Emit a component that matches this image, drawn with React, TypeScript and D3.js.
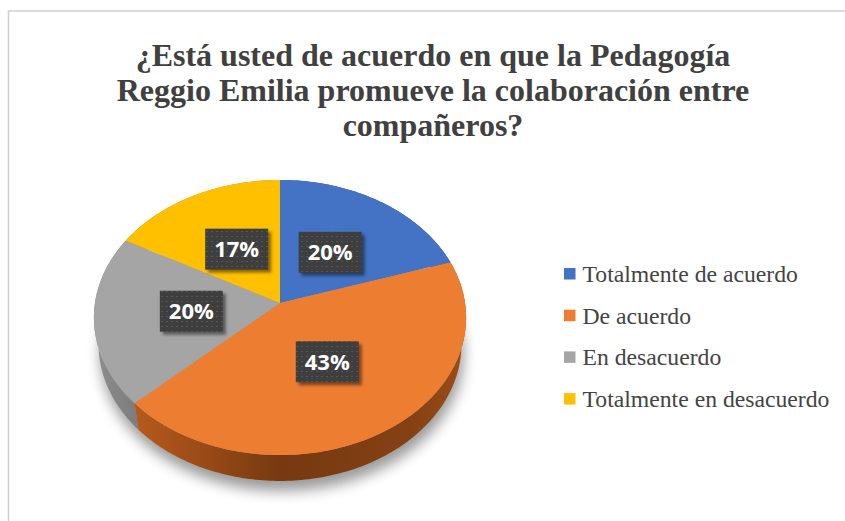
import React from "react";
import * as d3 from "d3";

const categories = ["Totalmente de acuerdo", "De acuerdo", "En desacuerdo", "Totalmente en desacuerdo"];
const values = [20, 43, 20, 17];
const labels = ["20%", "43%", "20%", "17%"];
const colors = ["#4472C4", "#ED7D31", "#A5A5A5", "#FFC000"];
const titleLines = [
  "¿Está usted de acuerdo en que la Pedagogía",
  "Reggio Emilia promueve la colaboración entre",
  "compañeros?",
];

const W = 845;
const H = 521;
// perspective projection parameters for the 3D pie
const cx = 280;
const cy = 303;
const K = 1188;
const D = 6.42;
const sA = 0.735;
const cA = 0.678;
const depth = 0.22;

function proj(theta: number, r: number, h: number): [number, number] {
  const X = r * Math.sin(theta);
  const Z = -r * Math.cos(theta);
  const yc = Z * sA + h * cA;
  const d = D - Z * cA + h * sA;
  return [cx + (K * X) / d, cy + (K * yc) / d];
}

function arcPts(a0: number, a1: number, h: number): [number, number][] {
  const n = Math.max(2, Math.ceil(Math.abs(a1 - a0) / (Math.PI / 180)));
  const pts: [number, number][] = [];
  for (let i = 0; i <= n; i++) {
    const t = a0 + ((a1 - a0) * i) / n;
    pts.push(proj(t, 1, h));
  }
  return pts;
}

export default function App() {
  const pie = d3
    .pie<number>()
    .sort(null)
    .value((d) => d)
    .startAngle(0)
    .endAngle(2 * Math.PI);
  const arcs = pie(values);
  const line = d3.line<[number, number]>().curve(d3.curveLinear);

  const tops = arcs.map((a) => {
    const pts = [proj(0, 0, 0), ...arcPts(a.startAngle, a.endAngle, 0)];
    return line(pts) + "Z";
  });
  const walls = arcs.map((a) => {
    const top = arcPts(a.startAngle, a.endAngle, 0);
    const bot = arcPts(a.endAngle, a.startAngle, depth);
    return line([...top, ...bot]) + "Z";
  });
  const wallOrder = arcs
    .map((a, i) => ({ i, m: Math.cos((a.startAngle + a.endAngle) / 2) }))
    .sort((p, q) => q.m - p.m)
    .map((o) => o.i);
  const shadowPath = line(arcPts(0, 2 * Math.PI, depth)) + "Z";
  const wallFill = ["url(#gBlueSide)", "url(#gOrangeSide)", "url(#gGraySide)", "url(#gYellowSide)"];

  const boxW = 63;
  const boxH = 41;
  const labelPos = arcs.map((a) => proj((a.startAngle + a.endAngle) / 2, 0.48, 0));

  const legendX = 564;
  const legendY0 = 282;
  const legendStep = 41.7;

  return (
    <svg
      width={W}
      height={H}
      style={{ position: "absolute", left: 0, top: 0, background: "#fff" }}
      xmlns="http://www.w3.org/2000/svg"
    >
      <defs>
        <linearGradient id="gOrangeSide" gradientUnits="userSpaceOnUse" x1={95} y1={0} x2={466} y2={0}>
          <stop offset="0" stopColor="#C4631F" />
          <stop offset="0.2" stopColor="#A9521A" />
          <stop offset="0.5" stopColor="#773910" />
          <stop offset="0.85" stopColor="#844114" />
          <stop offset="1" stopColor="#9C4C17" />
        </linearGradient>
        <linearGradient id="gGraySide" gradientUnits="userSpaceOnUse" x1={95} y1={0} x2={160} y2={0}>
          <stop offset="0" stopColor="#8E8E8E" />
          <stop offset="1" stopColor="#737373" />
        </linearGradient>
        <linearGradient id="gBlueSide" x1="0" y1="0" x2="1" y2="0">
          <stop offset="0" stopColor="#2F4F8A" />
          <stop offset="1" stopColor="#2F4F8A" />
        </linearGradient>
        <linearGradient id="gYellowSide" x1="0" y1="0" x2="1" y2="0">
          <stop offset="0" stopColor="#B38600" />
          <stop offset="1" stopColor="#B38600" />
        </linearGradient>
        <filter id="pieShadow" x="-20%" y="-20%" width="140%" height="140%">
          <feGaussianBlur stdDeviation="7" />
        </filter>
        <filter id="boxShadow" x="-30%" y="-30%" width="160%" height="160%">
          <feGaussianBlur stdDeviation="1.5" />
        </filter>
        <pattern id="dots" width="5" height="5" patternUnits="userSpaceOnUse">
          <rect width="5" height="5" fill="#3E3E3E" />
          <rect x="1" y="1" width="2" height="1" fill="#555555" />
        </pattern>
      </defs>

      <rect x={8.5} y={11} width={W} height={H} fill="#fff" stroke="#D0D0D0" strokeWidth={1.5} />

      <g fontFamily="'Liberation Serif', 'Times New Roman', serif" fontWeight="bold" fontSize={32} fill="#404040" textAnchor="middle">
        {titleLines.map((t, i) => (
          <text key={i} x={433} y={65.5 + i * 35.4}>
            {t}
          </text>
        ))}
      </g>

      <path d={shadowPath} transform="translate(2,10)" fill="#000" opacity={0.4} filter="url(#pieShadow)" />

      {wallOrder.map((i) => (
        <path key={"w" + i} d={walls[i]} fill={wallFill[i]} />
      ))}
      {tops.map((p, i) => (
        <path key={"t" + i} d={p} fill={colors[i]} />
      ))}

      {labelPos.map(([x, y], i) => (
        <g key={"l" + i}>
          <rect x={x - boxW / 2 + 3} y={y - boxH / 2 + 3} width={boxW} height={boxH} fill="#000" opacity={0.45} filter="url(#boxShadow)" />
          <rect x={x - boxW / 2} y={y - boxH / 2} width={boxW} height={boxH} fill="url(#dots)" />
          <text
            x={x}
            y={y + 8}
            textAnchor="middle"
            fontFamily="'Open Sans', sans-serif"
            fontWeight="bold"
            fontSize={22}
            fill="#fff"
          >
            {labels[i]}
          </text>
        </g>
      ))}

      <g fontFamily="'Liberation Serif', 'Times New Roman', serif" fontSize={23.7} fill="#444">
        {categories.map((c, i) => (
          <g key={"lg" + i}>
            <rect x={legendX} y={legendY0 + i * legendStep - 14} width={11.5} height={11.5} fill={colors[i]} />
            <text x={legendX + 18.5} y={legendY0 + i * legendStep}>
              {c}
            </text>
          </g>
        ))}
      </g>
    </svg>
  );
}
